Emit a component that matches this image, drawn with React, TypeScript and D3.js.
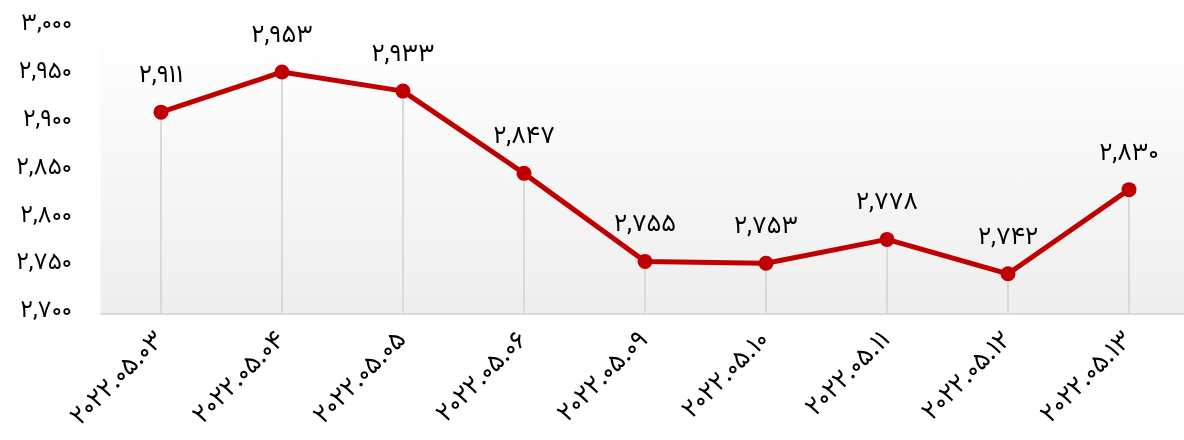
import React, { useEffect, useRef } from 'react';
import * as d3 from 'd3';

const dates = ['2022.05.03', '2022.05.04', '2022.05.05', '2022.05.06', '2022.05.09', '2022.05.10', '2022.05.11', '2022.05.12', '2022.05.13'];
const values = [2911, 2953, 2933, 2847, 2755, 2753, 2778, 2742, 2830];
const yTicks = [2700, 2750, 2800, 2850, 2900, 2950, 3000];

const faDigits = '۰۱۲۳۴۵۶۷۸۹';
const toFa = (s: string) => s.replace(/[0-9]/g, c => faDigits[+c]);
const fmt = (v: number) => toFa(d3.format(',')(v));

const FONT = '"Vazirmatn", "Noto Sans Arabic", "Noto Naskh Arabic", "DejaVu Sans", sans-serif';

const App: React.FC = () => {
  const ref = useRef<SVGSVGElement>(null);

  useEffect(() => {
    if (!ref.current) return;
    const svg = d3.select(ref.current);
    svg.selectAll('*').remove();

    const width = 1184;
    const height = 440;
    const margin = { top: 27, left: 100.5, bottom: 314 };

    const x = d3.scaleBand<string>()
      .domain(dates)
      .range([margin.left, margin.left + 121 * dates.length])
      .padding(0);
    const cx = (d: string) => (x(d) ?? 0) + x.bandwidth() / 2;

    const y = d3.scaleLinear()
      .domain([2700, 3000])
      .range([margin.bottom, margin.top]);

    svg.attr('width', width).attr('height', height);

    const grad = svg.append('defs').append('linearGradient')
      .attr('id', 'bg')
      .attr('x1', 0).attr('y1', 0).attr('x2', 0).attr('y2', 1);
    grad.append('stop').attr('offset', '0%').attr('stop-color', '#ffffff');
    grad.append('stop').attr('offset', '100%').attr('stop-color', '#eeeeee');

    svg.append('rect')
      .attr('x', margin.left)
      .attr('y', margin.top)
      .attr('width', width - margin.left)
      .attr('height', margin.bottom - margin.top)
      .attr('fill', 'url(#bg)');

    // drop lines
    svg.append('g')
      .selectAll('line')
      .data(dates)
      .join('line')
      .attr('x1', d => cx(d))
      .attr('x2', d => cx(d))
      .attr('y1', (d, i) => y(values[i]))
      .attr('y2', margin.bottom)
      .attr('stroke', '#d9d9d9')
      .attr('stroke-width', 2);

    // bottom axis line
    svg.append('line')
      .attr('x1', margin.left)
      .attr('x2', width)
      .attr('y1', margin.bottom)
      .attr('y2', margin.bottom)
      .attr('stroke', '#dadada')
      .attr('stroke-width', 2);

    // y tick labels
    svg.append('g')
      .selectAll('text')
      .data(yTicks)
      .join('text')
      .attr('x', 72)
      .attr('y', d => y(d) - 4)
      .attr('dy', '0.3em')
      .attr('text-anchor', 'end')
      .attr('font-family', FONT)
      .attr('font-size', 24)
      .attr('fill', '#000')
      .text(d => fmt(d));

    // x labels
    svg.append('g')
      .selectAll('text')
      .data(dates)
      .join('text')
      .attr('transform', d => `translate(${cx(d) + 4},${margin.bottom + 27}) rotate(-45)`)
      .attr('text-anchor', 'end')
      .attr('font-family', FONT)
      .attr('font-size', 26)
      .attr('fill', '#000')
      .text(d => toFa(d));

    // line
    svg.append('path')
      .datum(values)
      .attr('fill', 'none')
      .attr('stroke', '#c00000')
      .attr('stroke-width', 5)
      .attr('stroke-linejoin', 'round')
      .attr('d', d3.line<number>()
        .x((d, i) => cx(dates[i]))
        .y(d => y(d)));

    svg.append('g')
      .selectAll('circle')
      .data(values)
      .join('circle')
      .attr('cx', (d, i) => cx(dates[i]))
      .attr('cy', d => y(d))
      .attr('r', 7.5)
      .attr('fill', '#c00000');

    // value labels
    svg.append('g')
      .selectAll('text')
      .data(values)
      .join('text')
      .attr('x', (d, i) => cx(dates[i]))
      .attr('y', d => y(d) - 30)
      .attr('text-anchor', 'middle')
      .attr('font-family', FONT)
      .attr('font-size', 25)
      .attr('fill', '#000')
      .text(d => fmt(d));
  }, []);

  return (
    <svg
      ref={ref}
      style={{ position: 'fixed', left: 0, top: 0, display: 'block' }}
    />
  );
};

export default App;
